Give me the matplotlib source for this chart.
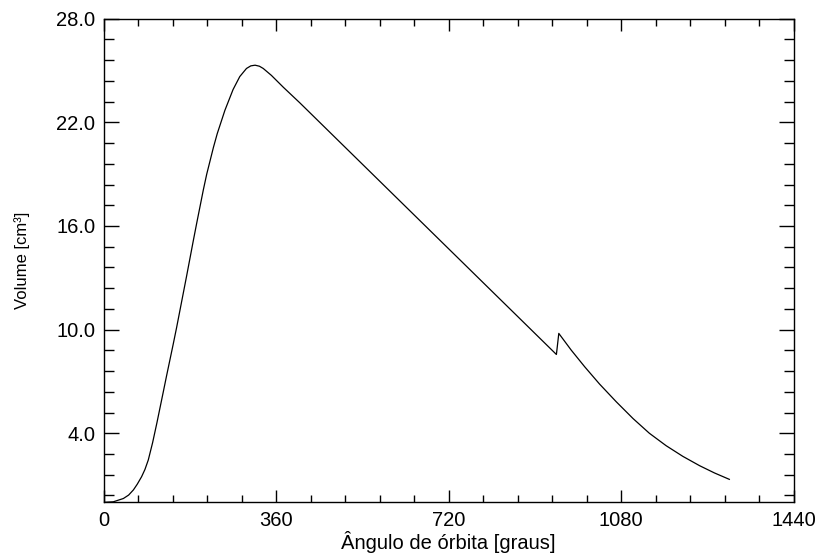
import numpy as np
import matplotlib
matplotlib.use("Agg")
import matplotlib.pyplot as plt
from matplotlib.ticker import FixedLocator, MultipleLocator, FormatStrFormatter

# orbit angle [deg] and chamber volume [cm3]
angle = [0, 20, 41, 52, 62, 70, 79, 86, 93, 102, 111, 124, 131, 145, 152,
         166, 173, 187, 194, 208, 215, 229, 237, 253, 270, 284, 298, 307,
         316, 325, 333, 350, 375, 409, 945, 950, 976, 1004, 1035, 1070,
         1105, 1139, 1174, 1209, 1244, 1275, 1306]
volume = [0.0, 0.03, 0.22, 0.42, 0.72, 1.05, 1.48, 1.9, 2.45, 3.45, 4.6,
          6.35, 7.3, 9.15, 10.1, 12.1, 13.1, 15.15, 16.15, 18.1, 19.0,
          20.55, 21.35, 22.7, 23.9, 24.65, 25.12, 25.27, 25.31, 25.25,
          25.12, 24.72, 24.03, 23.14, 8.56, 9.78, 8.81, 7.85, 6.85, 5.82,
          4.85, 4.0, 3.28, 2.66, 2.12, 1.70, 1.33]

x_ticks = [0, 360, 720, 1080, 1440]
y_ticks = [4.0, 10.0, 16.0, 22.0, 28.0]

plt.rcParams["font.family"] = ["Liberation Sans", "DejaVu Sans"]

fig = plt.figure(figsize=(8.2, 5.59), dpi=100)
ax = fig.add_axes([0.1265, 0.1014, 0.8412, 0.8651])

ax.plot(angle, volume, color="black", lw=0.9)

ax.set_xlim(0, 1440)
ax.set_ylim(0, 28)

ax.xaxis.set_major_locator(FixedLocator(x_ticks))
ax.xaxis.set_minor_locator(MultipleLocator(72))
ax.yaxis.set_major_locator(FixedLocator(y_ticks))
ax.yaxis.set_minor_locator(FixedLocator(np.arange(0.4, 28, 1.2)))
ax.yaxis.set_major_formatter(FormatStrFormatter("%.1f"))

ax.tick_params(which="both", direction="in", top=True, right=True,
               width=1.0, labelsize=14.5, pad=6)
ax.tick_params(axis="x", which="major", length=8.4)
ax.tick_params(axis="x", which="minor", length=5)
ax.tick_params(axis="y", which="major", length=10.5)
ax.tick_params(axis="y", which="minor", length=7)
for s in ax.spines.values():
    s.set_linewidth(1.0)

ax.set_xlabel("Ângulo de órbita [graus]", fontsize=14.5, labelpad=1)
ax.set_ylabel("Volume [cm³]", fontsize=12, labelpad=19)

fig.savefig("out.png", dpi=100)
